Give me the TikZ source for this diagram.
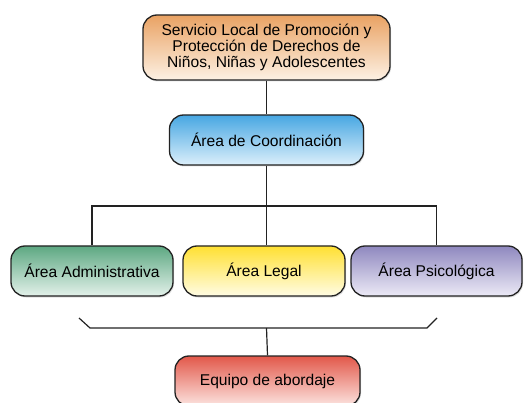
\documentclass[tikz,border=0pt]{standalone}
\usepackage{fontspec}
\setmainfont{Liberation Sans}
\usetikzlibrary{shadows}
\definecolor{orTop}{HTML}{E9A263}
\definecolor{orBot}{HTML}{FDF1E4}
\definecolor{blTop}{HTML}{47A7E2}
\definecolor{blBot}{HTML}{DCEFFB}
\definecolor{grTop}{HTML}{5DA882}
\definecolor{grBot}{HTML}{E3F1EA}
\definecolor{yeTop}{HTML}{FFE032}
\definecolor{yeBot}{HTML}{FFFCE4}
\definecolor{puTop}{HTML}{8F88BF}
\definecolor{puBot}{HTML}{ECEAF6}
\definecolor{reTop}{HTML}{E2584A}
\definecolor{reBot}{HTML}{FCE4E0}
\definecolor{edge}{HTML}{222222}
\tikzset{
  x=1pt,y=-1pt,
  box/.style={draw=edge, line width=1.3pt, rounded corners=14pt, align=center,
    font=\fontsize{15.6}{15.8}\selectfont, inner sep=0pt,
    drop shadow={shadow xshift=1pt, shadow yshift=-1.5pt, opacity=0.25}},
  link/.style={draw=edge, line width=1.2pt}
}
\begin{document}
\begin{tikzpicture}
\useasboundingbox (0,0) rectangle (527,403);
\node[box, top color=orTop, bottom color=orBot, minimum width=247pt, minimum height=65pt] (top) at (266.5,47.5)
  {Servicio Local de Promoción y\\Protección de Derechos de\\Niños, Niñas y Adolescentes};
\node[box, top color=blTop, bottom color=blBot, minimum width=194pt, minimum height=50pt] (coord) at (266.5,140) {Área de Coordinación};
\node[box, top color=grTop, bottom color=grBot, minimum width=162pt, minimum height=50pt] (adm) at (92,271) {Área Administrativa};
\node[box, top color=yeTop, bottom color=yeBot, minimum width=162pt, minimum height=50pt] (legal) at (264,271) {Área Legal};
\node[box, top color=puTop, bottom color=puBot, minimum width=171pt, minimum height=50pt] (psic) at (436.5,271) {Área Psicológica};
\node[box, top color=reTop, bottom color=reBot, minimum width=185pt, minimum height=50pt] (eq) at (267.5,381) {Equipo de abordaje};
\coordinate (bus) at (266.5,206);
\coordinate (bl) at (79,318);
\coordinate (br) at (437,318);
\coordinate (bm) at (266.5,328);
\draw[link] (top.south) -- (coord.north);
\draw[link] (coord.south) -- (bus);
\draw[link] (adm.north) |- (bus) -| (psic.north);
\draw[link] (bus) -- (bus |- legal.north);
\draw[link] (bl) -- (90,328) -- (427,328) -- (br);
\draw[link] (bm) -- (eq.north);
\end{tikzpicture}
\end{document}
